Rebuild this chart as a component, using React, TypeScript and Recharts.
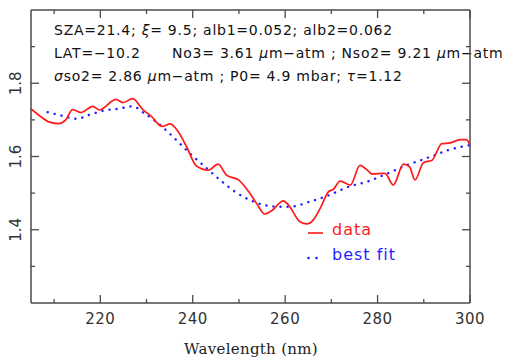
import { LineChart, Line, XAxis, YAxis, Customized } from "recharts";

const dataWl = [205, 207, 209, 211, 212.5, 214, 215.8, 218.4, 219.8, 223.4, 224.9, 227, 229.2, 231, 233.4, 235.1, 236.9, 238.7, 240.8, 243.4, 245.5, 247.3, 249.9, 252.4, 253.8, 255.6, 257.1, 259.6, 260.7, 263.2, 264.7, 266.1, 267.6, 269.4, 270.4, 271.9, 274.1, 276.2, 278, 278.8, 281.6, 283.4, 285.6, 286.9, 288.1, 289.9, 291.8, 293.9, 295.7, 297.9, 299.2, 300];
const dataVal = [1.73, 1.71, 1.694, 1.69, 1.7, 1.728, 1.72, 1.737, 1.727, 1.756, 1.747, 1.758, 1.728, 1.71, 1.682, 1.689, 1.667, 1.626, 1.574, 1.563, 1.579, 1.549, 1.536, 1.499, 1.472, 1.443, 1.452, 1.479, 1.468, 1.422, 1.416, 1.427, 1.459, 1.504, 1.51, 1.533, 1.522, 1.576, 1.56, 1.552, 1.554, 1.522, 1.579, 1.572, 1.536, 1.583, 1.59, 1.635, 1.637, 1.646, 1.646, 1.631];

// blue best fit
const fitWl = [208.6, 211.5, 214.8, 217.7, 220.9, 223.8, 227, 229.6, 232.3, 235.8, 239, 242.3, 245.9, 249.5, 252.4, 255.3, 258.5, 261.1, 265.4, 269, 274.1, 277.7, 281.3, 286.3, 291.4, 295.7, 300];
const fitVal = [1.721, 1.712, 1.703, 1.714, 1.726, 1.73, 1.737, 1.717, 1.693, 1.653, 1.613, 1.576, 1.536, 1.501, 1.481, 1.468, 1.463, 1.463, 1.477, 1.492, 1.519, 1.531, 1.549, 1.576, 1.599, 1.619, 1.631];

const xTicks = [210, 220, 230, 240, 250, 260, 270, 280, 290, 300];
const yTicks = [1.3, 1.4, 1.5, 1.6, 1.7, 1.8, 1.9];

const measured = dataWl.map((wl, i) => ({ wl, v: dataVal[i] }));
const fit = fitWl.map((wl, i) => ({ wl, v: fitVal[i] }));

const AX = "#4a4a4a";
const FONT = "DejaVu Sans";

const isMajorX = (v: number) => v % 20 === 0;
const isMajorY = (v: number) => Math.round(v * 10) % 2 === 0;

const BottomTick = ({ x, y, payload }: any) => {
  const major = isMajorX(payload.value);
  return (
    <g>
      <line x1={x} x2={x} y1={y} y2={y - (major ? 8 : 4)} stroke={AX} strokeWidth={1.3} />
      {major && (
        <text x={x} y={y + 21} textAnchor="middle" fontFamily={FONT} fontSize={15} letterSpacing={0.5} fill="#333">
          {payload.value}
        </text>
      )}
    </g>
  );
};

const TopTick = ({ x, y, payload }: any) => (
  <line x1={x} x2={x} y1={y} y2={y + (isMajorX(payload.value) ? 8 : 4)} stroke={AX} strokeWidth={1.3} />
);

const LeftTick = ({ x, y, payload }: any) => {
  const major = isMajorY(payload.value);
  return (
    <g>
      <line x1={x} x2={x + (major ? 8 : 4)} y1={y} y2={y} stroke={AX} strokeWidth={1.3} />
      {major && (
        <text
          x={x - 10}
          y={y}
          transform={`rotate(-90 ${x - 10} ${y})`}
          textAnchor="middle"
          fontFamily={FONT}
          fontSize={15}
          fill="#333"
        >
          {payload.value.toFixed(1)}
        </text>
      )}
    </g>
  );
};

const RightTick = ({ x, y, payload }: any) => (
  <line x1={x} x2={x - (isMajorY(payload.value) ? 8 : 4)} y1={y} y2={y} stroke={AX} strokeWidth={1.3} />
);

const Notes = () => (
  <g fontFamily={FONT} fontSize={14} fill="#111" letterSpacing={0.75}>
    <text x={54} y={35}>
      SZA=21.4; <tspan fontStyle="italic">ξ</tspan>= 9.5; alb1=0.052; alb2=0.062
    </text>
    <text x={54} y={58}>LAT=−10.2</text>
    <text x={172} y={58}>
      No3= 3.61 <tspan fontStyle="italic">μ</tspan>m−atm ; Nso2= 9.21 <tspan fontStyle="italic">μ</tspan>m−atm
    </text>
    <text x={54} y={81}>
      <tspan fontStyle="italic">σ</tspan>so2= 2.86 <tspan fontStyle="italic">μ</tspan>m−atm ; P0= 4.9 mbar; <tspan fontStyle="italic">τ</tspan>=1.12
    </text>
    <line x1={308} x2={323} y1={233} y2={233} stroke="#ff1a1a" strokeWidth={1.6} />
    <text x={332} y={235} fontSize={16} letterSpacing={1} fill="#ff1a1a">data</text>
    <circle cx={308.5} cy={258} r={1.3} fill="#1f1fff" />
    <circle cx={316.5} cy={258} r={1.3} fill="#1f1fff" />
    <text x={332} y={260} fontSize={16} letterSpacing={1} fill="#1f1fff">best fit</text>
    <text x={251} y={354} textAnchor="middle" fontFamily="DejaVu Serif" fontSize={15} letterSpacing={0.3} fill="#222">
      Wavelength (nm)
    </text>
  </g>
);

export default function App() {
  return (
    <div style={{ position: "absolute", left: 0, top: 0, background: "#fff" }}>
      <LineChart width={507} height={359} margin={{ top: 0, right: 0, bottom: 0, left: 0 }}>
        <XAxis
          dataKey="wl"
          type="number"
          domain={[205, 300]}
          ticks={xTicks}
          interval={0}
          height={56}
          tickSize={0}
          tickMargin={0}
          tick={<BottomTick />}
          axisLine={{ stroke: AX, strokeWidth: 1.5 }}
          allowDataOverflow
        />
        <XAxis
          xAxisId="top"
          orientation="top"
          dataKey="wl"
          type="number"
          domain={[205, 300]}
          ticks={xTicks}
          interval={0}
          height={10}
          tickSize={0}
          tickMargin={0}
          tick={<TopTick />}
          axisLine={{ stroke: AX, strokeWidth: 1.5 }}
          allowDataOverflow
        />
        <YAxis
          type="number"
          domain={[1.2, 2.0]}
          ticks={yTicks}
          interval={0}
          width={31}
          tickSize={0}
          tickMargin={0}
          tick={<LeftTick />}
          axisLine={{ stroke: AX, strokeWidth: 1.5 }}
          allowDataOverflow
        />
        <YAxis
          yAxisId="right"
          orientation="right"
          type="number"
          domain={[1.2, 2.0]}
          ticks={yTicks}
          interval={0}
          width={37}
          tickSize={0}
          tickMargin={0}
          tick={<RightTick />}
          axisLine={{ stroke: AX, strokeWidth: 1.5 }}
          allowDataOverflow
        />
        <Line
          data={fit}
          dataKey="v"
          type="monotone"
          stroke="#1f1fff"
          strokeWidth={2.4}
          strokeDasharray="0.1 7"
          strokeLinecap="round"
          dot={false}
          isAnimationActive={false}
        />
        <Line
          data={measured}
          dataKey="v"
          type="monotone"
          stroke="#ff1a1a"
          strokeWidth={1.7}
          dot={false}
          isAnimationActive={false}
        />
        <Customized component={Notes} />
      </LineChart>
    </div>
  );
}
